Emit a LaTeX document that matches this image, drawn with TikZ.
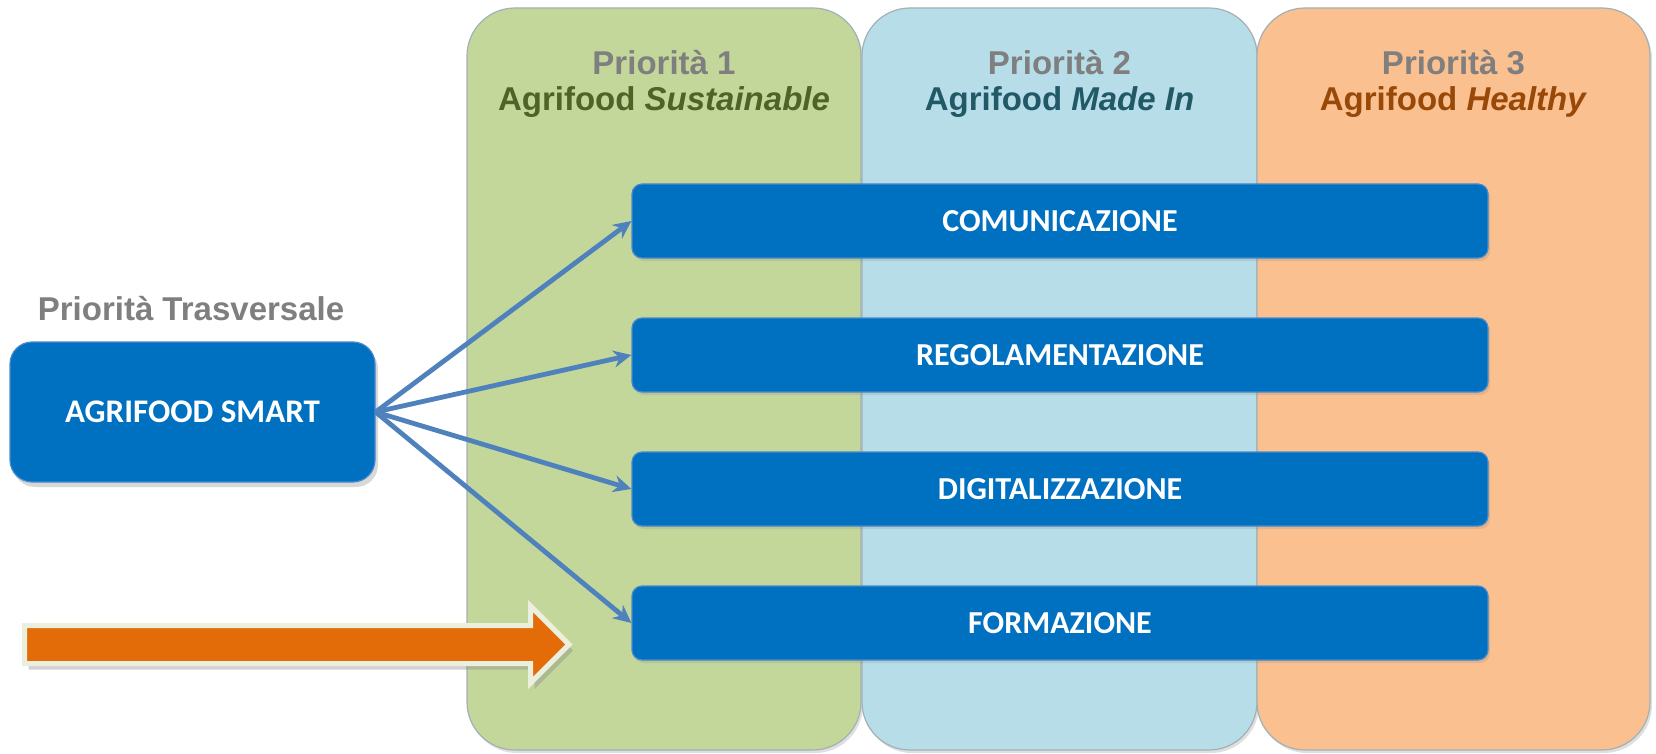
\documentclass[tikz,border=0pt]{standalone}
\usepackage{fontspec}
\newfontfamily\arialf{Liberation Sans}
\newfontfamily\calf{Carlito}
\usetikzlibrary{shadows,arrows.meta}
\definecolor{colgreen}{HTML}{C4D79B}
\definecolor{colblue}{HTML}{B7DEE8}
\definecolor{colorange}{HTML}{FAC090}
\definecolor{colline}{HTML}{A3B0B5}
\definecolor{barblue}{HTML}{0070C0}
\definecolor{barline}{HTML}{4A8ACB}
\definecolor{arrblue}{HTML}{4F81BD}
\definecolor{orarrow}{HTML}{E36C09}
\definecolor{arrborder}{HTML}{EBF0DE}
\definecolor{headgray}{HTML}{7F7F7F}
\definecolor{txtgreen}{HTML}{4F6228}
\definecolor{txtblue}{HTML}{215967}
\definecolor{txtorange}{HTML}{984807}
\begin{document}
\begin{tikzpicture}[x=1pt,y=-1pt,
  col/.style={rectangle, rounded corners=48pt, inner sep=0pt, minimum height=742pt,
    draw=colline, line width=1.2pt,
    drop shadow={shadow xshift=2pt, shadow yshift=-3pt, opacity=0.25}},
  bar/.style={rectangle, rounded corners=10pt, fill=barblue, draw=barline, line width=1.2pt,
    minimum width=856pt, minimum height=74pt, inner sep=0pt, text=white,
    font={\calf\bfseries\fontsize{32}{36}\selectfont},
    drop shadow={shadow xshift=2pt, shadow yshift=-3pt, opacity=0.2}},
  head/.style={inner sep=0pt, font={\arialf\bfseries\fontsize{33}{38}\selectfont}},
  conn/.style={draw=arrblue, line width=4.8pt, -{Stealth[length=18pt,width=17pt]}},
]
\useasboundingbox (0,0) rectangle (1656,754);
\fill[white] (0,0) rectangle (1656,754);

% columns
\node[col, fill=colgreen, minimum width=394pt] (c1) at (664,379) {};
\node[col, fill=colblue, minimum width=395pt] (c2) at (1059.5,379) {};
\node[col, fill=colorange, minimum width=393pt] (c3) at (1453.5,379) {};

% headers
\node[head, text=headgray] (h1a) at (664,63) {Priorità 1};
\node[head, text=txtgreen] (h1b) at (664,102) {Agrifood \textit{Sustainable}};
\node[head, text=headgray] (h2a) at (1059.5,63) {Priorità 2};
\node[head, text=txtblue] (h2b) at (1059.5,102) {Agrifood \textit{Made In}};
\node[head, text=headgray] (h3a) at (1453.5,63) {Priorità 3};
\node[head, text=txtorange] (h3b) at (1453.5,102) {Agrifood \textit{Healthy}};

% bars
\node[bar] (com) at (1060,221) {COMUNICAZIONE};
\node[bar] (reg) at (1060,355) {REGOLAMENTAZIONE};
\node[bar] (dig) at (1060,489) {DIGITALIZZAZIONE};
\node[bar] (form) at (1060,623) {FORMAZIONE};

% transversal priority
\node[head, text=headgray] (tlab) at (191,309) {Priorità Trasversale};
\node[rectangle, rounded corners=22pt, fill=barblue, draw=barline, line width=1.2pt,
  minimum width=365pt, minimum height=140pt, inner sep=0pt, text=white,
  font={\calf\bfseries\fontsize{33}{36}\selectfont},
  drop shadow={shadow xshift=3pt, shadow yshift=-5pt, opacity=0.3}] (smart) at (192.5,412) {AGRIFOOD SMART};

% connectors
\draw[conn] (smart.east) -- (com.west);
\draw[conn] (smart.east) -- (reg.west);
\draw[conn] (smart.east) -- (dig.west);
\draw[conn] (smart.east) -- (form.west);

% orange arrow
\draw[fill=orarrow, draw=arrborder, line width=5pt, line join=miter,
  drop shadow={shadow xshift=4pt, shadow yshift=-6pt, opacity=0.35}]
  (24.5,625.5) -- (530.5,625.5) -- (530.5,606) -- (569,644.5) -- (530.5,683)
  -- (530.5,663.5) -- (24.5,663.5) -- cycle;
\end{tikzpicture}
\end{document}
